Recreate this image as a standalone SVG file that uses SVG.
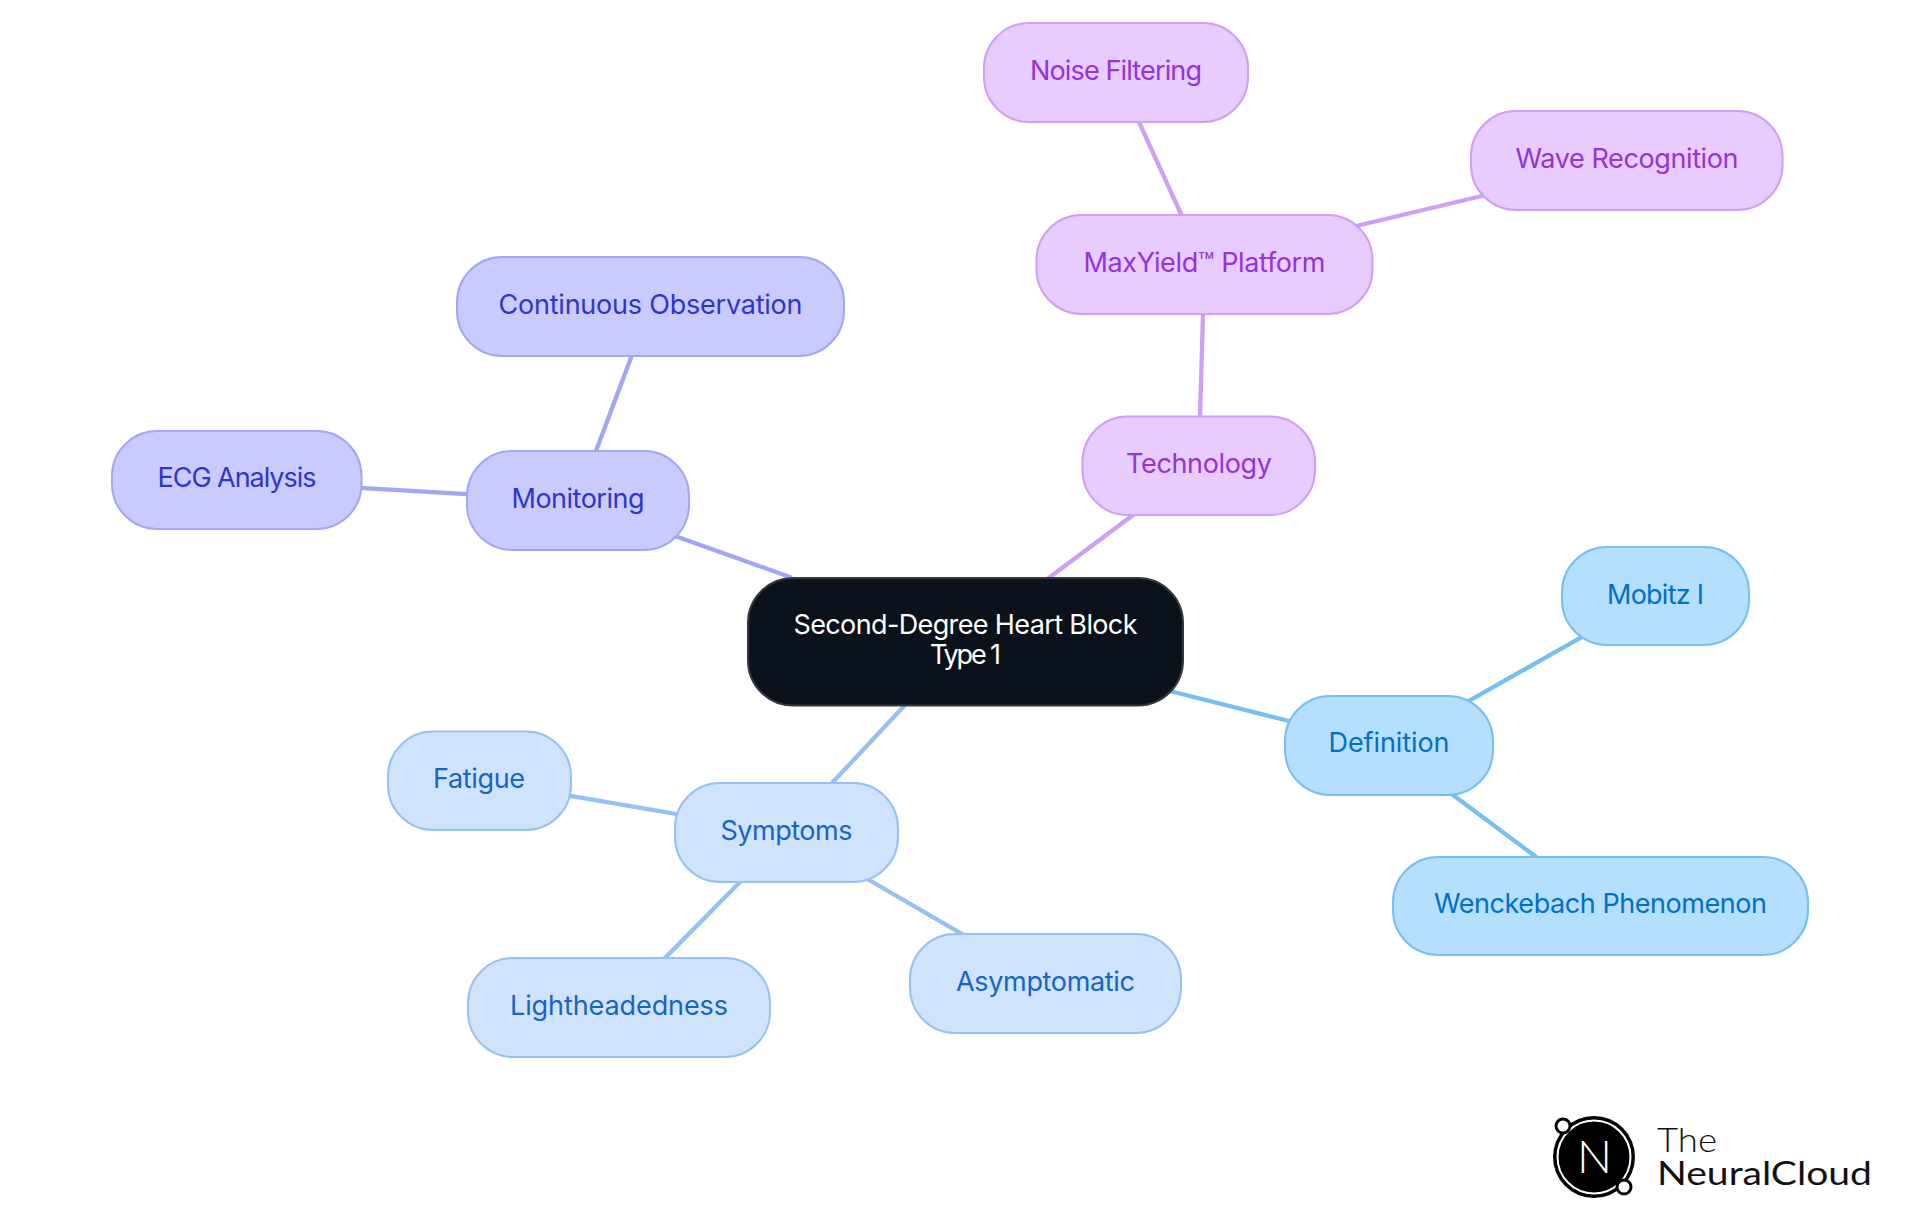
<svg xmlns="http://www.w3.org/2000/svg" width="1920" height="1215" viewBox="0 0 1920 1215">
<style>
text{font-family:"Inter","Noto Sans","Liberation Sans",sans-serif;font-size:27px;font-weight:380;text-anchor:middle}
.n rect{stroke-width:2}
#connectors line{stroke-width:4.300;stroke-linecap:square}
.p rect{fill:#e8ccff;stroke:#cf9ef5}.p text{fill:#9333db}
.m rect{fill:#c9cbff;stroke:#a3a6f5}.m text{fill:#2f35cc}
.s rect{fill:#cfe3fd;stroke:#96c1f2}.s text{fill:#1565c8}
.d rect{fill:#b5dffe;stroke:#77bff2}.d text{fill:#0070c8}
.lp{stroke:#cf9ef5}.lm{stroke:#a3a6f5}.ls{stroke:#96c1f2}.ld{stroke:#77bff2}
.logo{font-family:"Lato","Liberation Sans",sans-serif;font-size:33px;text-anchor:start;fill:#111111}
</style>
<rect width="1920" height="1215" fill="#ffffff"/>
<g id="connectors">
<line class="lp" x1="1050" y1="577" x2="1133" y2="515"/>
<line class="lp" x1="1200" y1="416" x2="1203" y2="314"/>
<line class="lp" x1="1181" y1="214" x2="1139" y2="122"/>
<line class="lp" x1="1356" y1="226" x2="1486" y2="195"/>
<line class="lm" x1="790" y1="577" x2="675" y2="536"/>
<line class="lm" x1="596" y1="451" x2="632" y2="355"/>
<line class="lm" x1="466" y1="494" x2="362" y2="488"/>
<line class="ls" x1="905" y1="705" x2="833" y2="782"/>
<line class="ls" x1="676" y1="814" x2="571" y2="796"/>
<line class="ls" x1="740" y1="882" x2="666" y2="957"/>
<line class="ls" x1="864" y1="877" x2="962" y2="934"/>
<line class="ld" x1="1170" y1="691" x2="1289" y2="721"/>
<line class="ld" x1="1465" y1="703" x2="1582" y2="637"/>
<line class="ld" x1="1453" y1="795" x2="1535" y2="856"/>
</g>
<g id="root" class="n"><rect x="748" y="578" width="435" height="127.500" rx="45" fill="#0b121b" stroke="#33373d"/>
<text x="965.500" y="634" fill="#ffffff" textLength="344">Second-Degree Heart Block</text><text x="965.500" y="664" fill="#ffffff" textLength="71">Type 1</text></g>
<g id="technology" class="n p"><rect x="1082.500" y="416.500" width="232.500" height="98.500" rx="45"/><text x="1199" y="473" textLength="146">Technology</text></g>
<g id="maxyield" class="n p"><rect x="1036.500" y="215" width="336" height="99" rx="45"/><text x="1204.500" y="272" textLength="242">MaxYield™ Platform</text></g>
<g id="noise" class="n p"><rect x="984" y="23" width="264" height="99" rx="45"/><text x="1116" y="80" textLength="172">Noise Filtering</text></g>
<g id="wave" class="n p"><rect x="1471" y="111" width="311.500" height="99" rx="45"/><text x="1627" y="168" textLength="223">Wave Recognition</text></g>
<g id="monitoring" class="n m"><rect x="467" y="451" width="222" height="99" rx="45"/><text x="578" y="508" textLength="133">Monitoring</text></g>
<g id="continuous" class="n m"><rect x="457" y="257" width="387" height="99" rx="45"/><text x="650.500" y="314" textLength="304">Continuous Observation</text></g>
<g id="ecg" class="n m"><rect x="112" y="431" width="249.500" height="98" rx="45"/><text x="237" y="487" textLength="159">ECG Analysis</text></g>
<g id="symptoms" class="n s"><rect x="675" y="783" width="223" height="99" rx="45"/><text x="786.500" y="840" textLength="132">Symptoms</text></g>
<g id="fatigue" class="n s"><rect x="388" y="731.500" width="183" height="98.500" rx="45"/><text x="479" y="788" textLength="92">Fatigue</text></g>
<g id="lightheadedness" class="n s"><rect x="468" y="958" width="302" height="99" rx="45"/><text x="619" y="1015" textLength="218">Lightheadedness</text></g>
<g id="asymptomatic" class="n s"><rect x="910" y="934" width="271" height="99" rx="45"/><text x="1045.500" y="991" textLength="179">Asymptomatic</text></g>
<g id="definition" class="n d"><rect x="1285" y="696" width="208" height="99" rx="45"/><text x="1389" y="752" textLength="121">Definition</text></g>
<g id="mobitz" class="n d"><rect x="1562" y="547" width="187" height="98" rx="45"/><text x="1655.500" y="604" textLength="97">Mobitz I</text></g>
<g id="wenckebach" class="n d"><rect x="1393" y="857" width="415" height="98" rx="45"/><text x="1600.500" y="913" textLength="333">Wenckebach Phenomenon</text></g>
<g id="logo">
<circle cx="1594" cy="1157" r="41" fill="#000000"/>
<circle cx="1594" cy="1157" r="36.500" fill="none" stroke="#ffffff" stroke-width="2"/>
<circle cx="1563" cy="1126" r="7" fill="#ffffff" stroke="#000000" stroke-width="3"/>
<circle cx="1624" cy="1187" r="7" fill="#ffffff" stroke="#000000" stroke-width="3"/>
<text x="1594.500" y="1173" style="font-family:'Lato','Liberation Sans',sans-serif;font-size:46px;font-weight:300" fill="#ffffff" textLength="35" lengthAdjust="spacingAndGlyphs">N</text>
<text class="logo" x="1657" y="1152" style="font-weight:300" textLength="60" lengthAdjust="spacingAndGlyphs">The</text>
<text class="logo" x="1657" y="1185" style="font-weight:400" textLength="215" lengthAdjust="spacingAndGlyphs">NeuralCloud</text>
</g>
</svg>
